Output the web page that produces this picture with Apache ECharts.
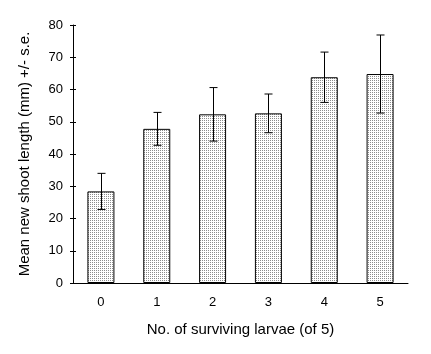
<!DOCTYPE html>
<html>
<head>
<meta charset="utf-8">
<script src="https://cdn.jsdelivr.net/npm/echarts@6/dist/echarts.min.js"></script>
<style>
  html, body { margin: 0; padding: 0; background: #fff; }
  #chart { width: 431px; height: 354px; }
</style>
</head>
<body>
<div id="chart"></div>
<script>
// data
var categories = ['0', '1', '2', '3', '4', '5'];
var meanLength = [28.4, 47.8, 52.3, 52.6, 63.8, 64.8];
var stdErr = [5.6, 5.1, 8.3, 6.0, 7.8, 12.1];

var chart = echarts.init(document.getElementById('chart'));

// stippled fill: one grey dot every 2px
var tile = document.createElement('canvas');
tile.width = 2;
tile.height = 2;
var tctx = tile.getContext('2d');
tctx.fillStyle = '#ffffff';
tctx.fillRect(0, 0, 2, 2);
tctx.fillStyle = '#8c8c8c';
tctx.fillRect(0, 0, 1, 1);

var errData = [];
for (var i = 0; i < categories.length; i++) {
  errData.push([i, meanLength[i] - stdErr[i], meanLength[i] + stdErr[i]]);
}

var font = 'Liberation Sans, Arial, sans-serif';

var option = {
  animation: false,
  backgroundColor: '#fff',
  grid: { left: 73, right: 23, top: 25, bottom: 71 },
  xAxis: {
    type: 'category',
    data: categories,
    name: 'No. of surviving larvae (of 5)',
    nameLocation: 'middle',
    nameGap: 39,
    nameTextStyle: { color: '#000', fontSize: 15, fontFamily: font },
    axisLine: { lineStyle: { color: '#000', width: 1 } },
    axisTick: { length: 5, lineStyle: { color: '#000' } },
    axisLabel: { color: '#000', fontSize: 13, fontFamily: font, margin: 13 }
  },
  yAxis: [{
    type: 'value',
    position: 'left',
    min: 0,
    max: 80,
    interval: 10,
    name: 'Mean new shoot length (mm) +/- s.e.',
    nameLocation: 'middle',
    nameGap: 41,
    nameTextStyle: { color: '#000', fontSize: 15, fontFamily: font },
    axisLine: { show: true, lineStyle: { color: '#000', width: 1 } },
    axisTick: { show: true, length: 3, lineStyle: { color: '#000' } },
    axisLabel: { color: '#000', fontSize: 13, fontFamily: font, margin: 10 },
    splitLine: { show: false }
  }, {
    type: 'value',
    position: 'left',
    min: 0,
    max: 80,
    interval: 10,
    axisLine: { show: false },
    axisTick: { show: true, inside: true, length: 3, lineStyle: { color: '#000' } },
    axisLabel: { show: false },
    splitLine: { show: false }
  }],
  series: [{
    type: 'bar',
    data: meanLength,
    barWidth: 27,
    itemStyle: {
      color: { image: tile, repeat: 'repeat' },
      borderColor: '#000',
      borderWidth: 1
    }
  }, {
    type: 'custom',
    data: errData,
    encode: { x: 0, y: [1, 2] },
    z: 5,
    renderItem: function (params, api) {
      var lo = api.coord([api.value(0), api.value(1)]);
      var hi = api.coord([api.value(0), api.value(2)]);
      var x = Math.round(lo[0]) + 0.5;
      var half = 4;
      var style = { stroke: '#000', lineWidth: 1 };
      return {
        type: 'group',
        children: [
          { type: 'line', shape: { x1: x, y1: hi[1], x2: x, y2: lo[1] }, style: style },
          { type: 'line', shape: { x1: x - half, y1: hi[1], x2: x + half, y2: hi[1] }, style: style },
          { type: 'line', shape: { x1: x - half, y1: lo[1], x2: x + half, y2: lo[1] }, style: style }
        ]
      };
    }
  }]
};

chart.setOption(option);
</script>
</body>
</html>
